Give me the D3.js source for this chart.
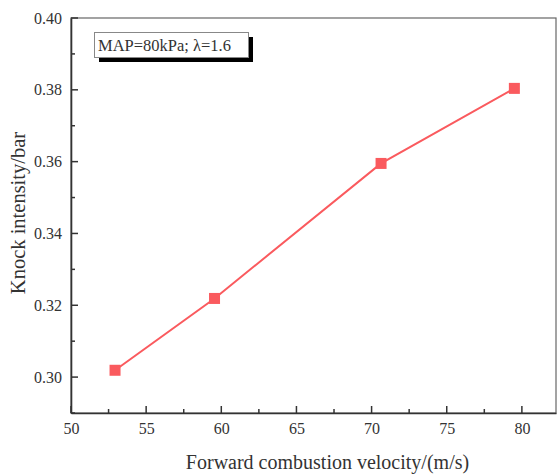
<!DOCTYPE html>
<html>
<head>
<meta charset="utf-8">
<script src="https://cdn.jsdelivr.net/npm/d3@7/dist/d3.min.js"></script>
<style>
  html, body { margin: 0; padding: 0; background: #fff; }
  svg { display: block; }
  text { font-family: "Liberation Serif", "Times New Roman", serif; fill: #333; }
</style>
</head>
<body>
<svg id="chart" width="558" height="476"></svg>
<script>
// Knock intensity vs forward combustion velocity
const velocity = [52.93, 59.55, 70.63, 79.5];
const knock = [0.3019, 0.3219, 0.3595, 0.3804];
const xTicks = [50, 55, 60, 65, 70, 75, 80];
const xMinorTicks = [52.5, 57.5, 62.5, 67.5, 72.5, 77.5];
const yTicks = [0.30, 0.32, 0.34, 0.36, 0.38, 0.40];
const yMinorTicks = [0.29, 0.31, 0.33, 0.35, 0.37, 0.39];
const legendLabel = "MAP=80kPa; λ=1.6";
const xTitle = "Forward combustion velocity/(m/s)";
const yTitle = "Knock intensity/bar";

const svg = d3.select("#chart");
const m = { left: 71, right: 556, top: 18, bottom: 413 };

const x = d3.scaleLinear().domain([50, 82.27]).range([m.left, m.right]);
const y = d3.scaleLinear().domain([0.29, 0.40]).range([m.bottom, m.top]);

const axisColor = "#333";

// frame (top and right edges)
svg.append("rect")
  .attr("x", m.left).attr("y", m.top)
  .attr("width", m.right - m.left).attr("height", m.bottom - m.top)
  .attr("fill", "none").attr("stroke", "#666").attr("stroke-width", 1.2);

// axes: labels from d3 axes, tick marks drawn inward below
const xAxis = svg.append("g")
  .attr("transform", `translate(0,${m.bottom})`)
  .call(d3.axisBottom(x).tickValues(xTicks).tickFormat(d3.format("d"))
    .tickSize(0).tickPadding(10));
const yAxis = svg.append("g")
  .attr("transform", `translate(${m.left},0)`)
  .call(d3.axisLeft(y).tickValues(yTicks).tickFormat(d3.format(".2f"))
    .tickSize(0).tickPadding(9));

[xAxis, yAxis].forEach(g => {
  g.select(".domain").attr("stroke", axisColor).attr("stroke-width", 1.6);
  g.selectAll(".tick text").attr("font-size", 16).attr("fill", "#333")
    .style("font-family", "'Liberation Serif', serif");
});

const ticks = svg.append("g").attr("stroke", axisColor).attr("stroke-width", 1.5);
ticks.selectAll("line.xmaj").data(xTicks).join("line")
  .attr("x1", d => x(d)).attr("x2", d => x(d))
  .attr("y1", m.bottom).attr("y2", m.bottom - 7);
ticks.selectAll("line.xmin").data(xMinorTicks).join("line")
  .attr("x1", d => x(d)).attr("x2", d => x(d))
  .attr("y1", m.bottom).attr("y2", m.bottom - 4);
ticks.selectAll("line.ymaj").data(yTicks).join("line")
  .attr("y1", d => y(d)).attr("y2", d => y(d))
  .attr("x1", m.left).attr("x2", m.left + 7);
ticks.selectAll("line.ymin").data(yMinorTicks).join("line")
  .attr("y1", d => y(d)).attr("y2", d => y(d))
  .attr("x1", m.left).attr("x2", m.left + 4);

// axis titles
svg.append("text")
  .attr("x", (m.left + m.right) / 2 + 14).attr("y", 469)
  .attr("text-anchor", "middle").attr("font-size", 20)
  .text(xTitle);
svg.append("text")
  .attr("transform", `translate(25,213) rotate(-90)`)
  .attr("text-anchor", "middle").attr("font-size", 20.5)
  .text(yTitle);

// data line and square markers
const red = "#fa5a5e";
svg.append("path")
  .datum(velocity.map((v, i) => [v, knock[i]]))
  .attr("fill", "none").attr("stroke", red).attr("stroke-width", 2)
  .attr("d", d3.line().x(d => x(d[0])).y(d => y(d[1])));

const sq = 11;
svg.selectAll("rect.pt")
  .data(velocity.map((v, i) => [v, knock[i]]))
  .join("rect").attr("class", "pt")
  .attr("x", d => x(d[0]) - sq / 2).attr("y", d => y(d[1]) - sq / 2)
  .attr("width", sq).attr("height", sq).attr("fill", red);

// condition label with drop shadow
const lg = svg.append("g");
lg.append("rect").attr("x", 99).attr("y", 37).attr("width", 154).attr("height", 25).attr("fill", "#000");
lg.append("rect").attr("x", 94.5).attr("y", 32.5).attr("width", 154).attr("height", 25)
  .attr("fill", "#fff").attr("stroke", "#888").attr("stroke-width", 1);
lg.append("text").attr("x", 98).attr("y", 51).attr("font-size", 16.5).text(legendLabel);
</script>
</body>
</html>
